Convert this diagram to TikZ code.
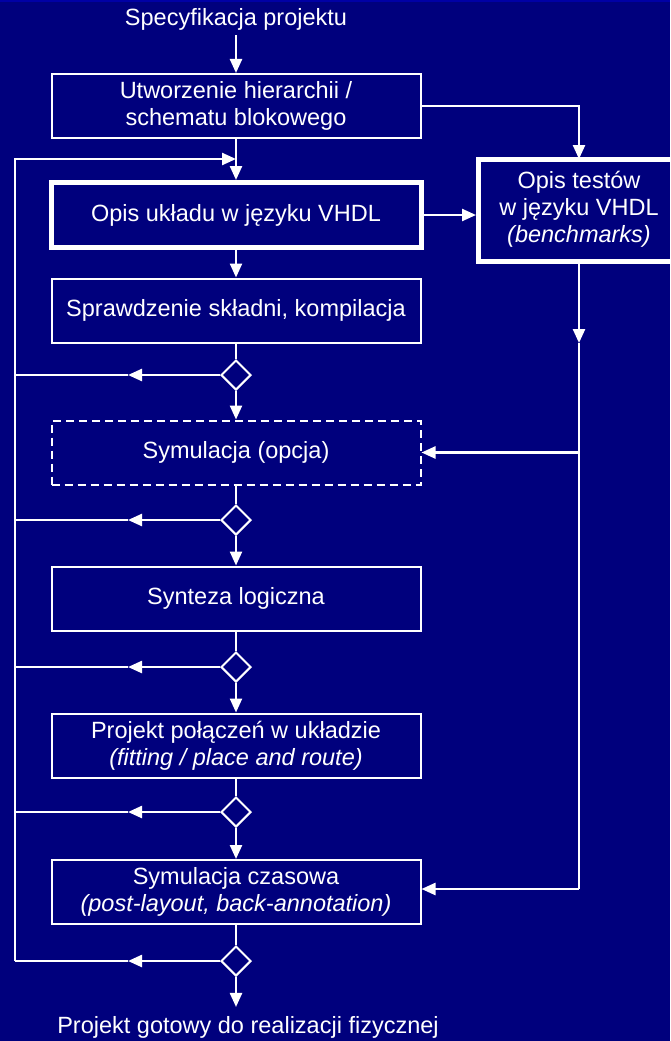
\documentclass[tikz,border=0pt]{standalone}
\usepackage{fontspec}
\setmainfont{Liberation Sans}
\usetikzlibrary{arrows.meta,shapes.geometric}
\definecolor{slidebg}{RGB}{0,0,125}
\definecolor{slidetop}{RGB}{0,0,165}

\begin{document}
\begin{tikzpicture}[x=1pt,y=-1pt,>={Triangle[length=14pt,width=12pt]},
  color=white,line width=2pt,
  every node/.style={text=white,font=\fontsize{23.5}{27}\selectfont,align=center},
  box/.style={draw=white,line width=2pt,minimum width=369pt,minimum height=64pt,inner sep=0pt},
  boldbox/.style={box,line width=5pt},
  optbox/.style={box,dash pattern=on 8pt off 5pt},
  dec/.style={draw=white,diamond,aspect=1,minimum width=30pt,minimum height=30pt,inner sep=0pt},
  flow/.style={->,line width=2.4pt},
  wire/.style={line width=2pt}]
  \useasboundingbox (0,0) rectangle (670,1041);
  \clip (0,0) rectangle (670,1041);
  \fill[slidebg] (0,0) rectangle (670,1041);
  \fill[slidetop] (0,0) rectangle (670,2.5);

  % boxes of the design flow
  \node[anchor=base] (spec) at (236,26) {Specyfikacja projektu};
  \node[box] (hier) at (236,106) {Utworzenie hierarchii /\\schematu blokowego};
  \node[boldbox,minimum width=370pt,minimum height=65pt] (opis) at (236,215) {Opis układu w języku VHDL};
  % runs off the right edge of the slide
  \node[boldbox,minimum width=243pt,minimum height=102pt] (testy) at (600,210.5)
    {\begin{tabular}{@{}c@{}}Opis testów\\w języku VHDL\\\textit{(benchmarks)}\end{tabular}\hspace*{42pt}};
  \node[box] (skl) at (236,310.5) {Sprawdzenie składni, kompilacja};
  \node[optbox] (sym) at (236,452.5) {Symulacja (opcja)};
  \node[box] (syn) at (236,598.5) {Synteza logiczna};
  \node[box] (pnr) at (236,745.5) {Projekt połączeń w układzie\\\textit{(fitting / place and route)}};
  \node[box] (czas) at (236,892) {Symulacja czasowa\\\textit{(post-layout, back-annotation)}};
  \node[anchor=base,inner sep=8pt] (fin) at (248,1033) {Projekt gotowy do realizacji fizycznej};

  % decisions and their return points
  \foreach \y [count=\i] in {375,520,667,812,961}{
    \node[dec] (d\i) at (236,\y) {};
    \coordinate (m\i) at (128,\y);
    \coordinate (l\i) at (15,\y);
  }
  \coordinate (top) at (236,159);
  \coordinate (tin) at (579,159);
  \coordinate (tout) at (579,262);
  \coordinate (r1) at (579,343);
  \coordinate (r2) at (579,452.5);
  \coordinate (r3) at (579,889);

  % main path
  \draw[flow] (spec.south) -- (hier.north);
  \draw[flow] (hier) -- (opis);
  \draw[flow] (opis) -- (skl);
  \draw[wire] (skl) -- (d1);
  \draw[flow] (d1) -- (sym);
  \draw[wire] (sym) -- (d2);
  \draw[flow] (d2) -- (syn);
  \draw[wire] (syn) -- (d3);
  \draw[flow] (d3) -- (pnr);
  \draw[wire] (pnr) -- (d4);
  \draw[flow] (d4) -- (czas);
  \draw[wire] (czas) -- (d5);
  \draw[flow] (d5) -- (d5.south |- fin.north);

  % loops back to the VHDL description
  \foreach \i in {1,...,5}{
    \draw[flow] (d\i) -- (m\i);
    \draw[wire] (m\i) -- (l\i);
  }
  \draw[flow] (l5) |- (top);

  % test benches
  \draw[flow] (hier.east) -| (tin);
  \draw[flow] (opis.east) -- (testy.west |- opis.east);
  \draw[flow] (tout) -- (r1);
  \draw[wire] (r1) -- (r3);
  \draw[flow] (r2) -- (sym.east);
  \draw[flow] (r3) -- (r3 -| czas.east);
\end{tikzpicture}
\end{document}
